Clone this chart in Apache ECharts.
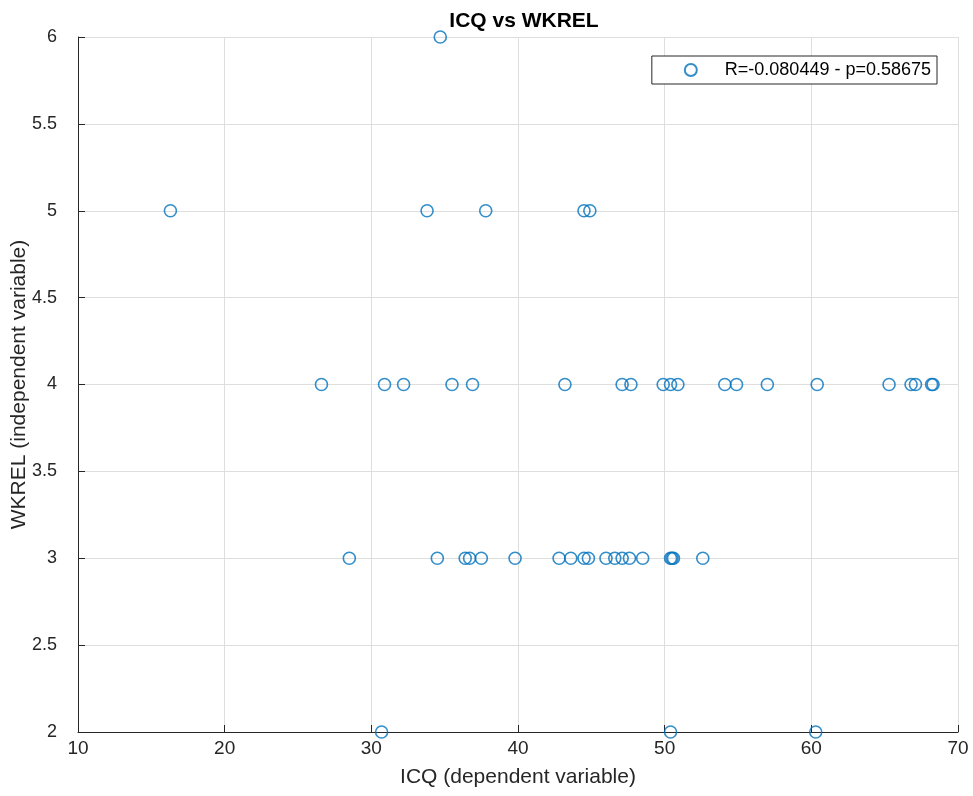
<!DOCTYPE html>
<html>
<head>
<meta charset="utf-8">
<title>ICQ vs WKREL</title>
<script src="https://cdn.jsdelivr.net/npm/echarts@6/dist/echarts.min.js"></script>
<style>
  html, body { margin: 0; padding: 0; background: #fff; }
  #chart { width: 973px; height: 796px; }
</style>
</head>
<body>
<div id="chart"></div>
<script>
// ICQ scores (x) paired with WKREL ratings (y)
const icq = [
  34.7,
  16.3, 33.8, 37.8, 44.5, 44.9,
  26.6, 30.9, 32.2, 35.5, 36.9, 43.2, 47.1, 47.7, 49.9, 50.4, 50.9,
  54.1, 54.9, 57.0, 60.4, 65.3, 66.8, 67.1, 68.2, 68.3,
  28.5, 34.5, 36.4, 36.7, 37.5, 39.8, 42.8, 43.6, 44.5, 44.8,
  46.0, 46.6, 47.1, 47.6, 48.5, 50.4, 50.5, 50.6, 52.6,
  30.7, 50.4, 60.3
];
const wkrel = [
  6,
  5, 5, 5, 5, 5,
  4, 4, 4, 4, 4, 4, 4, 4, 4, 4, 4,
  4, 4, 4, 4, 4, 4, 4, 4, 4,
  3, 3, 3, 3, 3, 3, 3, 3, 3, 3,
  3, 3, 3, 3, 3, 3, 3, 3, 3,
  2, 2, 2
];
const seriesName = 'R=-0.080449 - p=0.58675';
const chartTitle = 'ICQ vs WKREL';
const xName = 'ICQ (dependent variable)';
const yName = 'WKREL (independent variable)';

const points = icq.map((v, i) => [v, wkrel[i]]);

const axisColor = '#262626';
const gridColor = '#dedede';
const fontFamily = '"Liberation Sans", Arial, Helvetica, sans-serif';

const chart = echarts.init(document.getElementById('chart'), null, { renderer: 'canvas' });
chart.setOption({
  animation: false,
  backgroundColor: '#fff',
  title: {
    text: chartTitle,
    left: 519,
    textAlign: 'center',
    top: 6,
    textStyle: { fontFamily, fontSize: 21, fontWeight: 'bold', color: '#000' }
  },
  grid: {
    left: 78, right: 15, top: 37, bottom: 64,
    containLabel: false,
    outerBoundsMode: 'none'
  },
  legend: {
    right: 36,
    top: 56,
    orient: 'vertical',
    backgroundColor: '#fff',
    borderColor: axisColor,
    borderWidth: 1,
    borderRadius: 0,
    padding: [5, 6, 5, 32],
    itemWidth: 12,
    itemHeight: 12,
    itemGap: 0,
    textStyle: { fontFamily, fontSize: 18, color: '#000', padding: [0, 0, 0, 23] },
    data: [{ name: seriesName, icon: 'circle' }]
  },
  xAxis: {
    type: 'value',
    min: 10,
    max: 70,
    interval: 10,
    name: xName,
    nameLocation: 'middle',
    nameGap: 35,
    nameMoveOverlap: false,
    nameTextStyle: { fontFamily, fontSize: 21, color: axisColor },
    axisLine: { show: true, onZero: false, lineStyle: { color: axisColor, width: 1 } },
    axisTick: { show: true, inside: true, length: 7, lineStyle: { color: axisColor } },
    axisLabel: { fontFamily, fontSize: 19, color: axisColor, margin: 7 },
    splitLine: { show: true, lineStyle: { color: gridColor, width: 1 } }
  },
  yAxis: {
    type: 'value',
    min: 2,
    max: 6,
    interval: 0.5,
    name: yName,
    nameLocation: 'middle',
    nameGap: 48,
    nameMoveOverlap: false,
    nameTextStyle: { fontFamily, fontSize: 21, color: axisColor },
    axisLine: { show: true, onZero: false, lineStyle: { color: axisColor, width: 1 } },
    axisTick: { show: true, inside: true, length: 7, lineStyle: { color: axisColor } },
    axisLabel: { fontFamily, fontSize: 18, color: axisColor, margin: 21 },
    splitLine: { show: true, lineStyle: { color: gridColor, width: 1 } }
  },
  series: [{
    name: seriesName,
    type: 'scatter',
    data: points,
    symbol: 'circle',
    symbolSize: 12,
    itemStyle: {
      color: 'rgba(0,0,0,0)',
      borderColor: '#0072BD',
      borderWidth: 1.6
    },
    emphasis: { disabled: true },
    clip: false
  }]
});
</script>
</body>
</html>
